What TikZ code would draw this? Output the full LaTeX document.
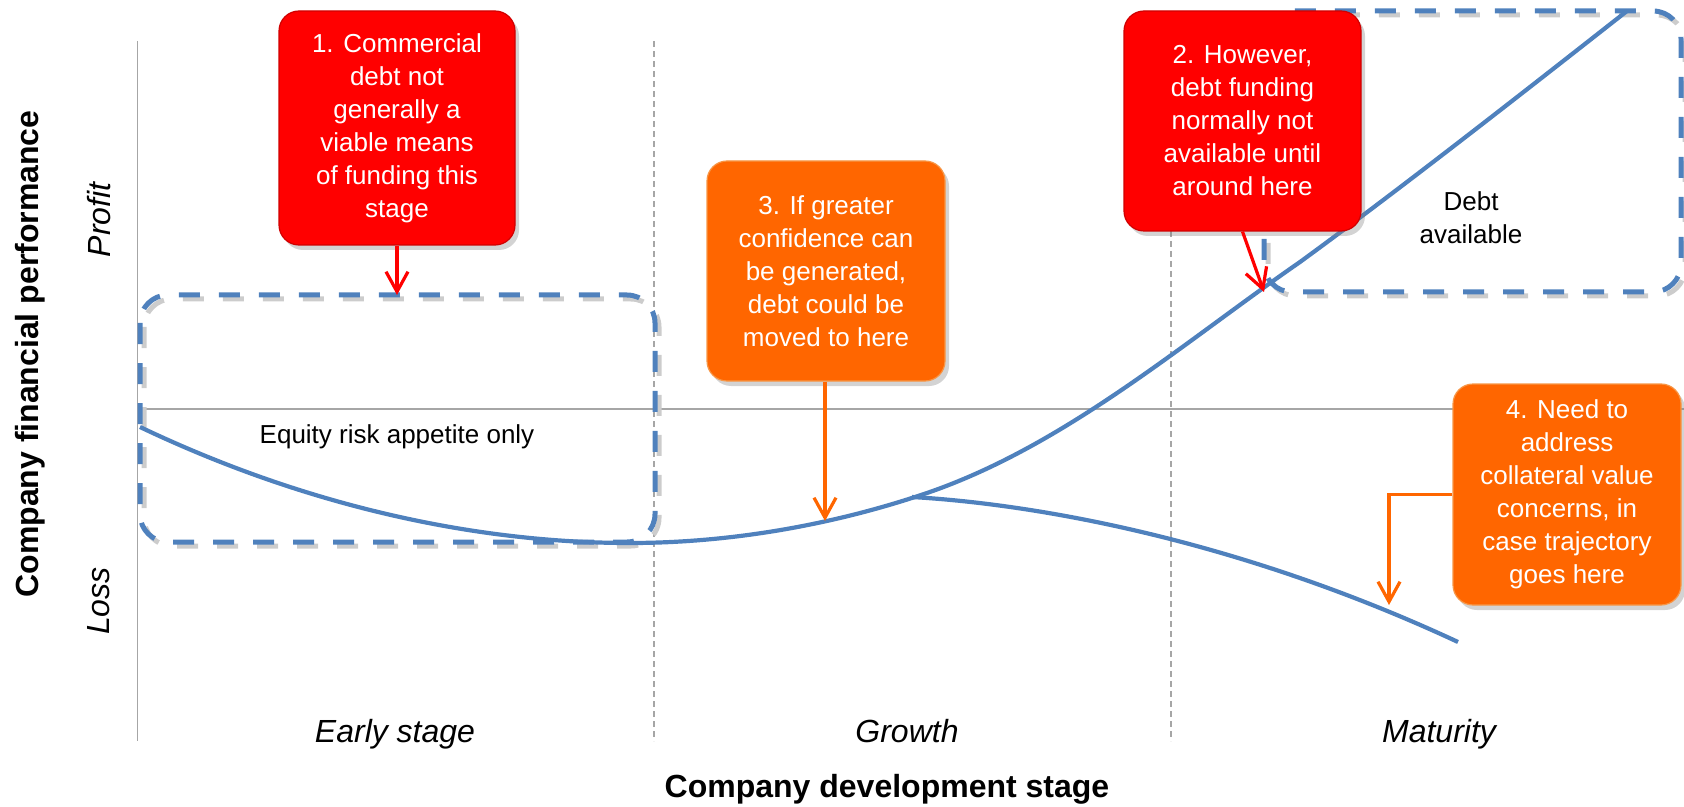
\documentclass[tikz,border=0pt]{standalone}
\usepackage{fontspec}
\setmainfont{Liberation Sans}
\usetikzlibrary{arrows.meta,shadows}
\definecolor{curveblue}{HTML}{4F81BD}
\definecolor{calloutred}{HTML}{FF0000}
\definecolor{redborder}{HTML}{D00000}
\definecolor{calloutorange}{HTML}{FF6600}
\definecolor{orangeborder}{HTML}{F79646}
\definecolor{axisgray}{HTML}{A6A6A6}
\begin{document}
\begin{tikzpicture}[x=0.5pt,y=-0.5pt,
  calloutfont/.style={font=\fontsize{13}{16.5}\selectfont},
  callout/.style={calloutfont, text=white, align=center, rounded corners=10pt,
    inner sep=4pt, line width=0.6pt,
    drop shadow={opacity=0.35, shadow xshift=2pt, shadow yshift=-2.5pt}},
  redbox/.style={callout, fill=calloutred, draw=redborder},
  orangebox/.style={callout, fill=calloutorange, draw=orangeborder},
  redarrow/.style={draw=calloutred, line width=1.6pt, -{Straight Barb[length=10pt,width=11pt]}},
  orangearrow/.style={draw=calloutorange, line width=1.6pt, -{Straight Barb[length=10pt,width=11pt]}},
  zonedash/.style={line width=2.5pt, dash pattern=on 10.5pt off 9.5pt, rounded corners=14pt},
  zonebox/.style={zonedash, draw=curveblue},
  zoneshadow/.style={zonedash, draw=black!20},
  trajectory/.style={draw=curveblue, line width=2.1pt},
  axisline/.style={draw=axisgray, line width=0.8pt},
  divider/.style={draw=axisgray, line width=0.6pt, dash pattern=on 3pt off 2pt},
  stagelabel/.style={font=\itshape\fontsize{16}{19}\selectfont},
  axistitle/.style={font=\bfseries\fontsize{16}{19}\selectfont},
  zonelabel/.style={calloutfont, align=center}
]
\useasboundingbox (0,0) rectangle (1684,807);

% axes, zero line and stage dividers
\draw[axisline] (137.5,41) -- (137.5,741);
\draw[axisline] (137.5,409) -- (1684,409);
\draw[divider] (654,41) -- (654,741);
\draw[divider] (1171,41) -- (1171,741);

% funding zones
\draw[zoneshadow] (144,299) rectangle (659,546);
\draw[zonebox] (140,295) rectangle (655,542);
\draw[zoneshadow] (1268,15) rectangle (1685,296);
\draw[zonebox] (1264,11) rectangle (1681,292);
\node[zonelabel] (equity) at (397,437) {Equity risk appetite only};
\node[zonelabel] (debt) at (1471,218) {Debt\\available};

% company trajectory and its downside branch
\draw[trajectory] (140,427) .. controls (310,508) and (480,543) .. (630,543)
  .. controls (730,543) and (830,525) .. (918,496)
  .. controls (1060,450) and (1180,345) .. (1300,262)
  .. controls (1400,189) and (1520,95) .. (1627,11);
\draw[trajectory] (912,497) .. controls (1050,505) and (1250,545) .. (1458,642);

% arrow targets
\coordinate (t1) at (397,295);
\coordinate (t2) at (1264,292);
\coordinate (t3) at (825,521);
\coordinate (t4) at (1389,605);

% callouts
\node[redbox, minimum width=118pt, minimum height=117pt] (c1) at (397,128)
  {1. Commercial\\debt not\\generally a\\viable means\\of funding this\\stage};
\node[redbox, minimum width=118.5pt, minimum height=110pt] (c2) at (1242.5,121)
  {2. However,\\debt funding\\normally not\\available until\\around here};
\node[orangebox, minimum width=119pt, minimum height=110pt] (c3) at (826,271)
  {3. If greater\\confidence can\\be generated,\\debt could be\\moved to here};
\node[orangebox, minimum width=114pt, minimum height=110.5pt] (c4) at (1567,494.5)
  {4. Need to\\address\\collateral value\\concerns, in\\case trajectory\\goes here};

\draw[redarrow] (c1.south) -- (t1);
\draw[redarrow] (c2.south) -- (t2);
\draw[orangearrow] (c3.south -| t3) -- (t3);
\draw[orangearrow] (c4.west) -| (t4);

% axis labels
\node[axistitle, rotate=90] (ytitle) at (30,354) {Company financial performance};
\node[stagelabel, rotate=90] (profit) at (99,220) {Profit};
\node[stagelabel, rotate=90] (loss) at (99,601) {Loss};
\node[stagelabel, anchor=base] (early) at (395,742) {Early stage};
\node[stagelabel, anchor=base] (growth) at (907,742) {Growth};
\node[stagelabel, anchor=base] (maturity) at (1439,742) {Maturity};
\node[axistitle] (xtitle) at (887,789) {Company development stage};
\end{tikzpicture}
\end{document}
